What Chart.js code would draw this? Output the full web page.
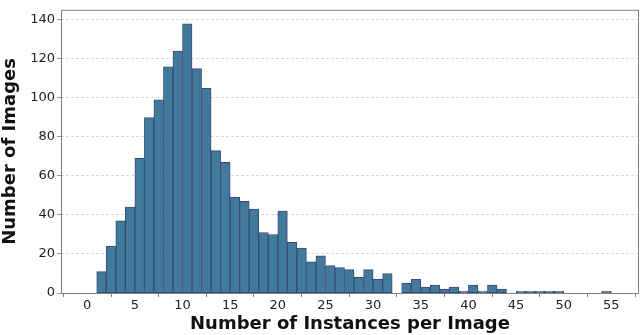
<!DOCTYPE html>
<html>
<head>
<meta charset="utf-8">
<script src="https://cdn.jsdelivr.net/npm/chart.js@4"></script>
<style>
  html, body { margin: 0; padding: 0; background: #fff; }
  #wrap { width: 644px; height: 335px; }
</style>
</head>
<body>
<div id="wrap"><canvas id="hist"></canvas></div>
<script>
// bin left edges (instances per image) and image counts
const binStarts = [1, 2, 3, 4, 5, 6, 7, 8, 9, 10, 11, 12, 13, 14, 15, 16, 17, 18, 19, 20,
    21, 22, 23, 24, 25, 26, 27, 28, 29, 30, 31, 32, 33, 34, 35, 36, 37, 38, 39, 40,
    41, 42, 43, 44, 45, 46, 47, 48, 49, 50, 51, 52, 53, 54];
const counts = [11, 24, 37, 44, 69, 90, 99, 116, 124, 138, 115, 105, 73, 67, 49, 47, 43, 31, 30, 42,
    26, 23, 16, 19, 14, 13, 12, 8, 12, 7, 10, 0, 5, 7, 3, 4, 2, 3, 1, 4,
    1, 4, 2, 0, 1, 1, 1, 1, 1, 0, 0, 0, 0, 1];
const xTicks = [0, 5, 10, 15, 20, 25, 30, 35, 40, 45, 50, 55];
const yTicks = [0, 20, 40, 60, 80, 100, 120, 140];

const FONT = "'DejaVu Sans', sans-serif";

// frame around the plot area (all four spines)
const framePlugin = {
    id: 'frame',
    afterDraw(chart) {
        const a = chart.chartArea;
        const ctx = chart.ctx;
        ctx.save();
        ctx.strokeStyle = '#808080';
        ctx.lineWidth = 1;
        ctx.strokeRect(a.left + 0.5, a.top + 0.5, a.right - a.left - 1, a.bottom - a.top);
        ctx.restore();
    }
};

const ctx = document.getElementById('hist').getContext('2d');
const chart = new Chart(ctx, {
    type: 'bar',
    data: {
        datasets: [{
            data: binStarts.map((b, i) => ({ x: b + 0.5, y: counts[i] })),
            backgroundColor: '#427a9c',
            borderColor: '#3a4a78',
            borderWidth: 1,
            borderSkipped: false,
            barPercentage: 1,
            categoryPercentage: 1
        }]
    },
    options: {
        responsive: true,
        maintainAspectRatio: false,
        animation: false,
        layout: { padding: { top: 6, right: 5, left: 0, bottom: 0 } },
        plugins: {
            legend: { display: false },
            tooltip: { enabled: false }
        },
        scales: {
            x: {
                type: 'linear',
                offset: false,
                min: -2.75,
                max: 57.9,
                afterBuildTicks: s => { s.ticks = xTicks.map(v => ({ value: v })); },
                afterFit: s => { s.height = 42; },
                grid: { drawOnChartArea: false, tickLength: 4, color: '#808080' },
                border: { display: false },
                ticks: { color: '#222', font: { family: FONT, size: 13 }, padding: 1, maxRotation: 0 },
                title: {
                    display: true,
                    text: 'Number of Instances per Image',
                    color: '#111',
                    font: { family: FONT, size: 18, weight: 'bold' },
                    padding: { top: 0, bottom: 0 }
                }
            },
            y: {
                min: 0,
                max: 145.2,
                afterBuildTicks: s => { s.ticks = yTicks.map(v => ({ value: v })); },
                afterFit: s => { s.width = 61; },
                grid: {
                    color: '#cfcfcf',
                    lineWidth: 0.8,
                    tickLength: 4,
                    tickColor: '#808080',
                    tickBorderDash: []
                },
                border: { display: false, dash: [3, 2] },
                ticks: { color: '#222', font: { family: FONT, size: 13 }, padding: 2 },
                title: {
                    display: true,
                    text: 'Number of Images',
                    color: '#111',
                    font: { family: FONT, size: 18, weight: 'bold' },
                    padding: { top: 0, bottom: 2 }
                }
            }
        }
    },
    plugins: [framePlugin]
});
</script>
</body>
</html>
